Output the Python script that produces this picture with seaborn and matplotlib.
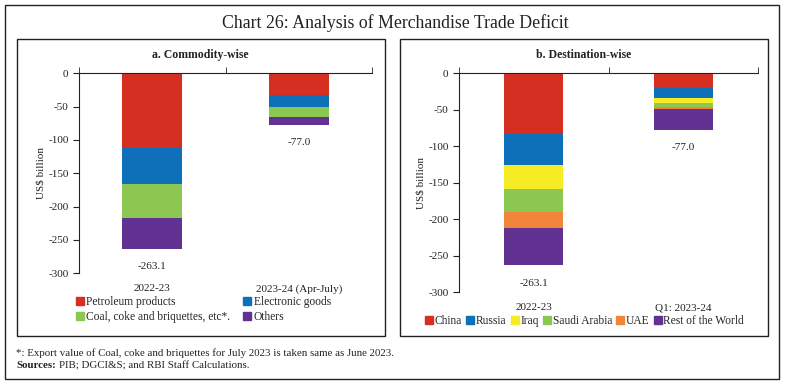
import numpy as np
import pandas as pd
import matplotlib
matplotlib.use("Agg")
import matplotlib.pyplot as plt
from matplotlib.patches import Rectangle, Patch
import seaborn as sns

# panel a: commodity-wise (US$ billion)
periods_a = ["2022-23", "2023-24 (Apr-July)"]
commodities = ["Petroleum products", "Electronic goods", "Coal, coke and briquettes, etc*.", "Others"]
petroleum = [-112.5, -32.0]
electronic = [-54.0, -18.0]
coal = [-50.0, -15.0]
others_a = [-46.6, -12.0]
totals_a = [-263.1, -77.0]

# panel b: destination-wise (US$ billion)
periods_b = ["2022-23", "Q1: 2023-24"]
countries = ["China", "Russia", "Iraq", "Saudi Arabia", "UAE", "Rest of the World"]
china = [-83.0, -19.6]
russia = [-43.0, -14.2]
iraq = [-32.0, -7.3]
saudi = [-32.0, -4.6]
uae = [-21.4, -3.2]
rest_world = [-51.7, -28.1]
totals_b = [-263.1, -77.0]

colors_a = ["#D52F22", "#0E70B8", "#8BC751", "#623293"]
colors_b = ["#D52F22", "#0E70B8", "#F5EC25", "#8BC751", "#F1853A", "#623293"]

sns.set_style("white")
plt.rcParams["font.family"] = ["Liberation Serif", "DejaVu Serif"]
plt.rcParams["axes.unicode_minus"] = False

W, H = 786, 384
fig = plt.figure(figsize=(W / 100, H / 100), dpi=100)


def box(x0, y0, x1, y1, lw=1.0):
    fig.patches.append(Rectangle((x0 / W, 1 - y1 / H), (x1 - x0) / W, (y1 - y0) / H,
                                 transform=fig.transFigure, fill=False,
                                 edgecolor="#222222", linewidth=lw))


def axes_px(x0, y0, x1, y1):
    return fig.add_axes([x0 / W, 1 - y1 / H, (x1 - x0) / W, (y1 - y0) / H])


def stacked(ax, periods, series, colors, totals, width):
    df = pd.DataFrame(series, index=periods).T
    cum = df.cumsum()
    # draw deepest cumulative first, then overlay shallower ones
    for name, col in reversed(list(zip(df.index, colors))):
        sns.barplot(x=periods, y=cum.loc[name].values, color=col, saturation=1,
                    width=width, linewidth=0, ax=ax)
    for i, t in enumerate(totals):
        ax.annotate(f"{t:.1f}", (i, t), xytext=(0, -13), textcoords="offset points",
                    ha="center", va="center", fontsize=8, color="#222222")
    ax.set_ylim(-300, 0)
    ax.set_xlim(-0.5, 1.5)
    ax.set_yticks(np.arange(-300, 1, 50))
    ax.set_ylabel("US$ billion", fontsize=8, color="#222222", labelpad=2)
    ax.set_xlabel("")
    for s in ["right", "bottom"]:
        ax.spines[s].set_visible(False)
    for s in ["left", "top"]:
        ax.spines[s].set_color("#222222")
        ax.spines[s].set_linewidth(0.8)
    ax.set_xticks([-0.5, 0.5, 1.5], minor=True)
    ax.tick_params(axis="x", which="major", bottom=True, top=False, length=0,
                   labelsize=8, labelcolor="#222222", pad=8)
    ax.tick_params(axis="x", which="minor", bottom=False, top=True, length=4,
                   direction="out", color="#222222")
    ax.tick_params(axis="y", left=True, length=4, direction="out", labelsize=8,
                   labelcolor="#222222", color="#222222")


# frames
box(5, 5, 779, 379)
box(17, 39, 385, 336)
box(400, 39, 768, 336)

fig.text(395 / W, 1 - 23 / H, "Chart 26: Analysis of Merchandise Trade Deficit",
         ha="center", va="center", fontsize=12.8, color="#222222")
fig.text(200 / W, 1 - 55 / H, "a. Commodity-wise", ha="center", va="center",
         fontsize=8.5, fontweight="bold", color="#222222")
fig.text(584 / W, 1 - 55 / H, "b. Destination-wise", ha="center", va="center",
         fontsize=8.5, fontweight="bold", color="#222222")

ax1 = axes_px(79, 73.3, 372, 273.3)
stacked(ax1, periods_a, dict(zip(commodities, [petroleum, electronic, coal, others_a])),
        colors_a, totals_a, 0.41)
# matplotlib fills legend columns first, so reorder for row-wise reading
order = [0, 2, 1, 3]
ax1.legend(handles=[Patch(color=colors_a[i], label=commodities[i]) for i in order],
           ncol=2, loc="upper left", bbox_to_anchor=(76 / W, 1 - 296 / H),
           bbox_transform=fig.transFigure, frameon=False, fontsize=8.3,
           handlelength=0.7, handleheight=0.7, handletextpad=0.2,
           columnspacing=1.1, labelspacing=0.3, borderpad=0, borderaxespad=0)

ax2 = axes_px(459, 73.3, 758, 292.3)
stacked(ax2, periods_b, dict(zip(countries, [china, russia, iraq, saudi, uae, rest_world])),
        colors_b, totals_b, 0.395)
ax2.legend(handles=[Patch(color=c, label=l) for l, c in zip(countries, colors_b)],
           ncol=6, loc="upper left", bbox_to_anchor=(425 / W, 1 - 315 / H),
           bbox_transform=fig.transFigure, frameon=False, fontsize=8.3,
           handlelength=0.7, handleheight=0.7, handletextpad=0.15,
           columnspacing=0.35, borderpad=0, borderaxespad=0)

fig.text(16 / W, 1 - 353 / H,
         "*: Export value of Coal, coke and briquettes for July 2023 is taken same as June 2023.",
         ha="left", va="center", fontsize=7.8, color="#222222")
t = fig.text(16 / W, 1 - 366 / H, "Sources:", ha="left", va="center", fontsize=7.8,
             fontweight="bold", color="#222222")
fig.canvas.draw()
bb = t.get_window_extent()
fig.text(bb.x1 / W + 3 / W, 1 - 366 / H, "PIB; DGCI&S; and RBI Staff Calculations.",
         ha="left", va="center", fontsize=7.8, color="#222222")

fig.savefig("out.png", dpi=100)
